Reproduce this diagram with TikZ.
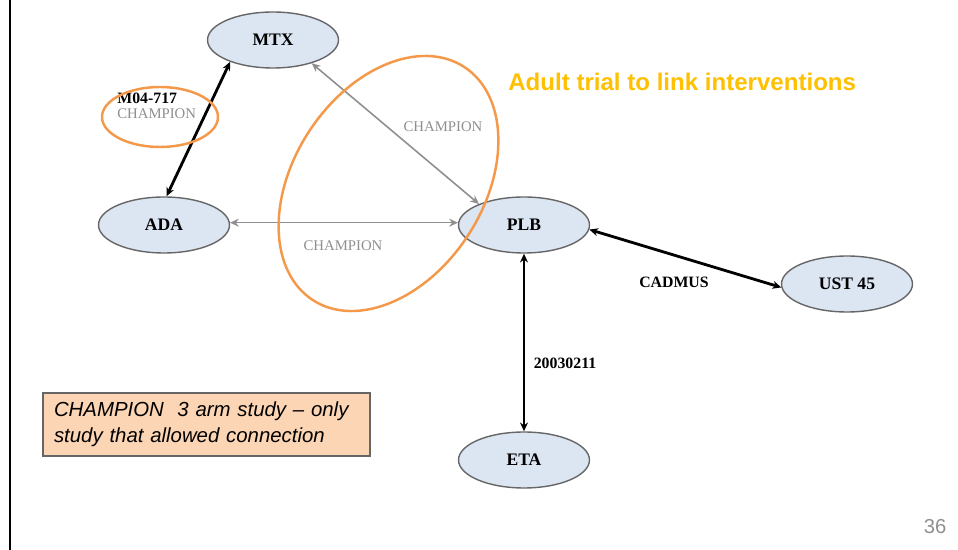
\documentclass[tikz,border=0pt]{standalone}
\usepackage{fontspec}
\setmainfont{Liberation Serif}
\setsansfont{Liberation Sans}
\usetikzlibrary{arrows.meta,shapes.geometric}

\definecolor{drugfill}{HTML}{DCE6F2}
\definecolor{drugline}{HTML}{666666}
\definecolor{ringorange}{HTML}{F4994A}
\definecolor{titlegold}{HTML}{FFC000}
\definecolor{notepeach}{HTML}{FCD5B5}
\definecolor{champgray}{HTML}{8F8F8F}

\tikzset{
  drug/.style={ellipse, draw=drugline, fill=drugfill, line width=0.8pt,
    minimum width=2.62cm, minimum height=1.12cm, inner sep=0pt,
    font=\bfseries\fontsize{10}{12}\selectfont},
  trial/.style={line width=1.6pt, {Stealth[length=5pt,width=4.5pt]}-{Stealth[length=5pt,width=4.5pt]}},
  champ/.style={line width=0.9pt, draw=champgray, {Stealth[length=5pt,width=4.5pt]}-{Stealth[length=5pt,width=4.5pt]}},
  ring/.style={draw=ringorange, line width=1.4pt},
  champlabel/.style={text=champgray, font=\fontsize{8.4}{10}\selectfont, inner sep=0pt},
  triallabel/.style={font=\bfseries\fontsize{9}{11}\selectfont, inner sep=0pt},
}

\begin{document}
\begin{tikzpicture}[x=0.02cm,y=-0.02cm]
    \useasboundingbox (0,0) rectangle (958,550);
    \draw[line width=1.1pt] (10,0) -- (10,550);

% drugs
\node[drug] (mtx) at (273,40) {MTX};
\node[drug] (ada) at (164,225) {ADA};
\node[drug] (plb) at (524,225) {PLB};
\node[drug] (ust) at (847,284) {UST 45};
\node[drug] (eta) at (524,460) {ETA};

% trials
\draw[trial] (mtx.207) -- (ada.85);
\draw[champ] (mtx.329) -- (plb.155);
\draw[champ] (ada.2) -- (plb.178);
\draw[trial] (plb.356) -- (ust.183);
\draw[trial] (plb.south) -- (eta.north);

\node[triallabel, anchor=west] (m04) at (117,98) {M04-717};
\node[champlabel, anchor=west] (champa) at (117,114) {CHAMPION};
\node[champlabel] (champb) at (443,127) {CHAMPION};
\node[champlabel] (champc) at (343,246) {CHAMPION};
\node[triallabel] (cadmus) at (674,282) {CADMUS};
\node[triallabel] (amgen) at (565,363) {20030211};

% rings
\draw[ring] (160,117) ellipse (1.16cm and 0.6cm);
\draw[ring, rotate around={-33:(388.5,183.5)}] (388.5,183.5) ellipse (1.9cm and 2.78cm);

\node[text=titlegold, inner sep=0pt, font=\sffamily\bfseries\fontsize{13.7}{16}\selectfont, anchor=west] (title) at (508,82) {Adult trial to link interventions};

\node[draw=drugline, fill=notepeach, line width=0.8pt, minimum width=6.54cm, minimum height=1.26cm,
  text width=6.1cm, align=left, inner sep=0pt, font=\sffamily\itshape\fontsize{11.6}{14.7}\selectfont] (note) at (206.5,424.5)
  {CHAMPION\ \ 3 arm study -- only\\study that allowed connection};

\node[text=champgray, font=\sffamily\fontsize{11.5}{14}\selectfont] (page) at (935,527) {36};

\end{tikzpicture}
\end{document}
